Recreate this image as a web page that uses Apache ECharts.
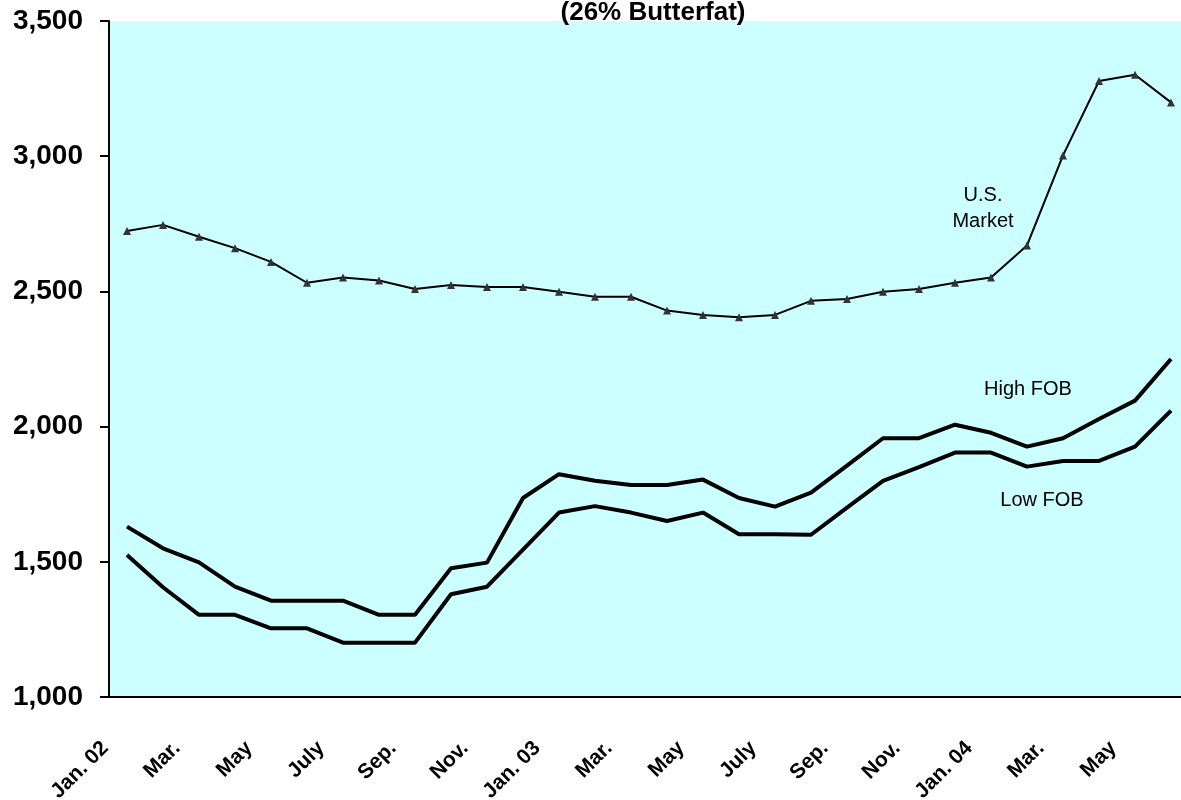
<!DOCTYPE html>
<html>
<head>
    <meta charset="utf-8">
    <title>26% Butterfat</title>
    <script src="https://cdn.jsdelivr.net/npm/echarts@6/dist/echarts.min.js"></script>
    <style>
        html, body { margin: 0; padding: 0; background: #fff; overflow: hidden; }
        /* plot area runs a little past the right edge of the window, like the original */
        #container { width: 1190px; height: 800px; }
    </style>
</head>
<body>
<div id="container"></div>
<script>
    // months Jan 2002 .. Jun 2004
    var months = ['2002-01', '2002-02', '2002-03', '2002-04', '2002-05', '2002-06',
        '2002-07', '2002-08', '2002-09', '2002-10', '2002-11', '2002-12',
        '2003-01', '2003-02', '2003-03', '2003-04', '2003-05', '2003-06',
        '2003-07', '2003-08', '2003-09', '2003-10', '2003-11', '2003-12',
        '2004-01', '2004-02', '2004-03', '2004-04', '2004-05', '2004-06'];
    var tickLabels = ['Jan. 02', 'Feb.', 'Mar.', 'Apr.', 'May', 'June', 'July', 'Aug.', 'Sep.', 'Oct.', 'Nov.', 'Dec.',
        'Jan. 03', 'Feb.', 'Mar.', 'Apr.', 'May', 'June', 'July', 'Aug.', 'Sep.', 'Oct.', 'Nov.', 'Dec.',
        'Jan. 04', 'Feb.', 'Mar.', 'Apr.', 'May', 'June'];

    var usMarket = [2723, 2746, 2702, 2660, 2609, 2532, 2551, 2540, 2509, 2524, 2516, 2516,
        2499, 2480, 2480, 2429, 2413, 2404, 2413, 2465, 2472, 2499, 2509, 2532,
        2551, 2670, 3003, 3278, 3301, 3199];
    var highFob = [1630, 1550, 1498, 1408, 1356, 1356, 1356, 1304, 1304, 1476, 1497, 1736,
        1824, 1800, 1784, 1784, 1804, 1736, 1704, 1756, 1856, 1957, 1957, 2007,
        1977, 1926, 1957, 2028, 2096, 2250];
    var lowFob = [1525, 1406, 1304, 1304, 1254, 1254, 1201, 1201, 1201, 1380, 1408, 1545,
        1682, 1706, 1682, 1651, 1682, 1602, 1602, 1600, 1700, 1799, 1850, 1904,
        1904, 1852, 1873, 1873, 1926, 2059];

    var yMin = 1000, yMax = 3500, yStep = 500;
    var font = "'Liberation Sans', Arial, sans-serif";

    var myChart = echarts.init(document.getElementById('container'));
    var option = {
        animation: false,
        backgroundColor: '#ffffff',
        title: {
            text: '(26% Butterfat)',
            left: 648,
            textAlign: 'center',
            top: -5,
            textStyle: { fontFamily: font, fontSize: 26, fontWeight: 'bold', color: '#000' }
        },
        grid: {
            left: 109,
            right: 1,
            top: 21,
            bottom: 103,
            outerBoundsMode: 'none',
            show: true,
            backgroundColor: '#CCFFFF',
            borderWidth: 0
        },
        xAxis: {
            type: 'category',
            data: months,
            boundaryGap: true,
            axisLine: { lineStyle: { color: '#000', width: 2 } },
            axisTick: { interval: 0, length: 6, lineStyle: { color: '#000', width: 2 } },
            axisLabel: {
                interval: 1,
                rotate: 45,
                margin: 26,
                padding: [0, 31, 0, 0],
                fontFamily: font,
                fontSize: 21,
                fontWeight: 'bold',
                color: '#000',
                formatter: function (val, idx) { return tickLabels[idx]; }
            },
            splitLine: { show: false }
        },
        yAxis: {
            type: 'value',
            min: yMin,
            max: yMax,
            interval: yStep,
            axisLine: { show: true, lineStyle: { color: '#000', width: 2 } },
            axisTick: { show: true, length: 9, lineStyle: { color: '#000', width: 2 } },
            axisLabel: {
                margin: 26,
                fontFamily: font,
                fontSize: 28,
                fontWeight: 'bold',
                color: '#000',
                formatter: function (v) { return echarts.format.addCommas(v); }
            },
            splitLine: { show: false }
        },
        series: [{
            name: 'U.S. Market',
            type: 'line',
            data: usMarket,
            symbol: 'triangle',
            symbolSize: 8,
            itemStyle: { color: '#333333' },
            lineStyle: { color: '#000', width: 2 }
        }, {
            name: 'High FOB',
            type: 'line',
            data: highFob,
            showSymbol: false,
            symbol: 'none',
            lineStyle: { color: '#000', width: 4 }
        }, {
            name: 'Low FOB',
            type: 'line',
            data: lowFob,
            showSymbol: false,
            symbol: 'none',
            lineStyle: { color: '#000', width: 4 }
        }],
        graphic: [{
            type: 'text', x: 983, y: 208, z: 10,
            style: { text: 'U.S.\nMarket', font: '20px ' + font, fill: '#000', align: 'center', verticalAlign: 'middle', lineHeight: 26 }
        }, {
            type: 'text', x: 1028, y: 389, z: 10,
            style: { text: 'High FOB', font: '20px ' + font, fill: '#000', align: 'center', verticalAlign: 'middle' }
        }, {
            type: 'text', x: 1042, y: 500, z: 10,
            style: { text: 'Low FOB', font: '20px ' + font, fill: '#000', align: 'center', verticalAlign: 'middle' }
        }]
    };
    myChart.setOption(option);
</script>
</body>
</html>
